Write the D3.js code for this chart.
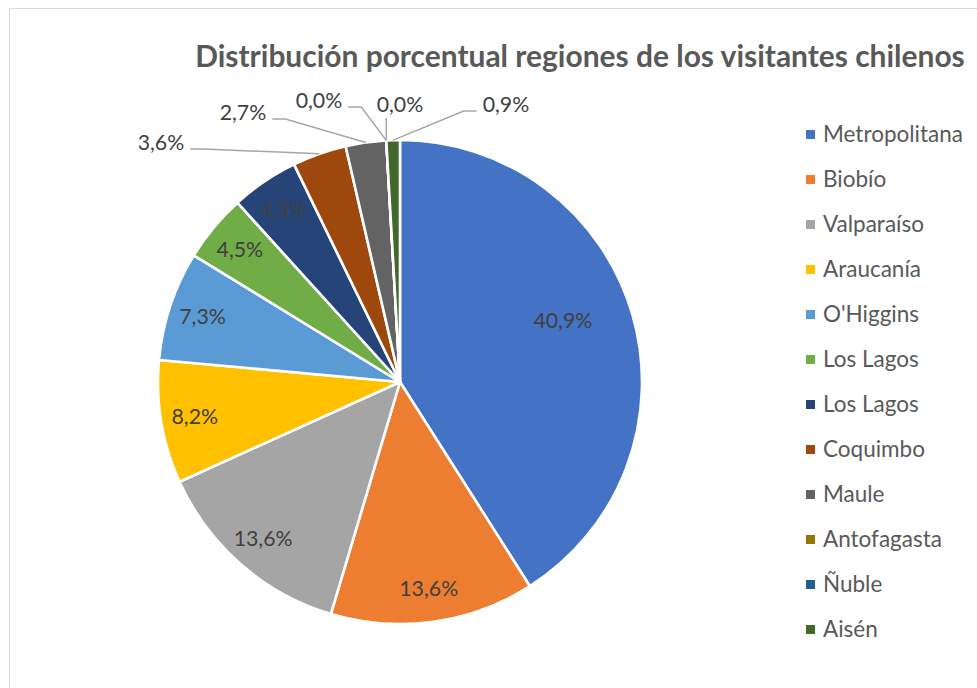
<!DOCTYPE html>
<html>
<head>
<meta charset="utf-8">
<script src="https://cdn.jsdelivr.net/npm/d3@7"></script>
<style>
  html, body { margin: 0; padding: 0; background: #fff; }
  svg { display: block; }
</style>
</head>
<body>
<svg id="chart" width="977" height="688"></svg>
<script>
// ---- Data ----
const categories = ["Metropolitana", "Biobío", "Valparaíso", "Araucanía", "O'Higgins",
  "Los Lagos", "Los Lagos", "Coquimbo", "Maule", "Antofagasta", "Ñuble", "Aisén"];
const values = [40.9, 13.6, 13.6, 8.2, 7.3, 4.5, 4.5, 3.6, 2.7, 0.0, 0.0, 0.9];
const colors = ["#4472C4", "#ED7D31", "#A5A5A5", "#FFC000", "#5B9BD5", "#70AD47",
  "#264478", "#9E480E", "#636363", "#997300", "#255E91", "#43682B"];
const title = "Distribución porcentual regiones de los visitantes chilenos";

// ---- Layout ----
const W = 977, H = 688;
const cx = 400, cy = 382, R = 242;
const fontFamily = "Lato, 'Open Sans', sans-serif";
// outside label placement (center x, baseline y) for the tiny slices
const outsideLabels = {
  7: { x: 161, y: 150 },
  8: { x: 243, y: 120 },
  9: { x: 319, y: 108 },
  10: { x: 400, y: 112 },
  11: { x: 506, y: 112 }
};

const svg = d3.select("#chart");
const fmt = v => d3.format(".1f")(v).replace(".", ",") + "%";

// chart area border
svg.append("rect")
  .attr("x", 9.5).attr("y", 8.5).attr("width", 1100).attr("height", 1000)
  .attr("fill", "#fff").attr("stroke", "#d9d9d9").attr("stroke-width", 1);

// title
const titleEl = svg.append("text")
  .attr("x", 580).attr("y", 67)
  .attr("text-anchor", "middle")
  .attr("font-family", fontFamily).attr("font-weight", "bold")
  .attr("font-size", 28).attr("fill", "#595959")
  .text(title);
{
  const w = titleEl.node().getComputedTextLength();
  titleEl.attr("font-size", 28 * 770 / w);
}

// pie
const pie = d3.pie().sort(null).value(d => d)
  .startAngle(0).endAngle(2 * Math.PI);
const arcs = pie(values);
const arc = d3.arc().innerRadius(0).outerRadius(R);

const g = svg.append("g").attr("transform", `translate(${cx},${cy})`);
g.selectAll("path.slice").data(arcs).enter().append("path")
  .attr("class", "slice")
  .attr("d", arc)
  .attr("fill", (d, i) => colors[i])
  .attr("stroke", "#fff").attr("stroke-width", 2.6).attr("stroke-linejoin", "round");

// label font sizing: fit "13,6%" to ~58px
const probe = svg.append("text").attr("font-family", fontFamily).attr("font-size", 20).text("13,6%");
const labelSize = 20 * 59 / probe.node().getComputedTextLength();
probe.remove();

const mid = d => (d.startAngle + d.endAngle) / 2;
const polar = (a, r) => [r * Math.sin(a), -r * Math.cos(a)];

arcs.forEach((d, i) => {
  const txt = fmt(values[i]);
  if (outsideLabels[i]) {
    const L = outsideLabels[i];
    const t = svg.append("text")
      .attr("x", L.x).attr("y", L.y)
      .attr("text-anchor", "middle")
      .attr("font-family", fontFamily).attr("font-size", labelSize)
      .attr("fill", "#404040").text(txt);
    const w = t.node().getComputedTextLength();
    const p = polar(mid(d), R);
    const px = cx + p[0], py = cy + p[1];
    let pts;
    if (px >= L.x - w / 2 && px <= L.x + w / 2) {
      pts = [[px, L.y + 6], [px, py]];
    } else if (px > L.x) {
      const sx = L.x + w / 2 + 6;
      pts = [[sx, L.y - 1], [sx + 13, L.y - 1], [px, py]];
    } else {
      const sx = L.x - w / 2 - 6;
      pts = [[sx, L.y - 1], [sx - 13, L.y - 1], [px, py]];
    }
    svg.append("path")
      .attr("d", d3.line()(pts))
      .attr("fill", "none").attr("stroke", "#a6a6a6").attr("stroke-width", 1.5);
  } else {
    const frac = (d.endAngle - d.startAngle) / (2 * Math.PI);
    const r = frac > 0.3 ? 0.72 * R : 0.86 * R;
    const a = mid(d) - (frac > 0.3 ? 0.08 : 0);
    const p = polar(a, r);
    g.append("text")
      .attr("x", p[0]).attr("y", p[1])
      .attr("dy", "0.35em")
      .attr("text-anchor", "middle")
      .attr("font-family", fontFamily).attr("font-size", labelSize)
      .attr("fill", "#404040").text(txt);
  }
});

// legend
const probe2 = svg.append("text").attr("font-family", fontFamily).attr("font-size", 20).text("Metropolitana");
const legendSize = 20 * 140 / probe2.node().getComputedTextLength();
probe2.remove();

const ly = d3.scalePoint().domain(d3.range(categories.length)).range([134.5, 629.5]);
const leg = svg.append("g");
categories.forEach((c, i) => {
  leg.append("rect")
    .attr("x", 806).attr("y", ly(i) - 4.5).attr("width", 9).attr("height", 9)
    .attr("fill", colors[i]);
  leg.append("text")
    .attr("x", 823).attr("y", ly(i)).attr("dy", "0.35em")
    .attr("font-family", fontFamily).attr("font-size", legendSize)
    .attr("fill", "#595959").text(c);
});
</script>
</body>
</html>
